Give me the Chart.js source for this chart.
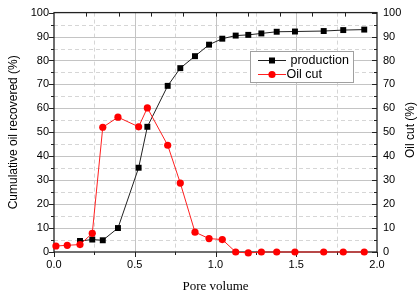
<!DOCTYPE html>
<html>
<head>
<meta charset="utf-8">
<script src="https://cdn.jsdelivr.net/npm/chart.js@4/dist/chart.umd.min.js"></script>
<style>
html,body{margin:0;padding:0;background:#fff;}
#wrap{width:420px;height:305px;}
</style>
</head>
<body>
<div id="wrap"><canvas id="c" width="420" height="305"></canvas></div>
<script>
// ---- data ----
const productionPV = [0.161, 0.237, 0.302, 0.396, 0.524, 0.578, 0.704, 0.782, 0.873, 0.960, 1.042, 1.125, 1.203, 1.284, 1.379, 1.492, 1.670, 1.791, 1.921];
const productionValues = [4.6, 5.2, 4.9, 10.0, 35.2, 52.3, 69.4, 76.8, 81.8, 86.6, 89.1, 90.4, 90.7, 91.3, 92.0, 92.1, 92.3, 92.7, 92.9];
const oilCutPV = [0.012, 0.082, 0.161, 0.237, 0.302, 0.396, 0.524, 0.578, 0.704, 0.782, 0.873, 0.960, 1.042, 1.125, 1.203, 1.284, 1.379, 1.492, 1.670, 1.791, 1.921];
const oilCutValues = [2.5, 2.8, 3.1, 7.8, 52.1, 56.3, 52.3, 60.2, 44.6, 28.8, 8.3, 5.6, 5.2, 0, -0.4, 0, 0, 0, 0, 0, 0];
const seriesLabels = ["production", "Oil cut"];
const xTitle = "Pore volume";
const yTitle = "Cumulative oil recovered (%)";
const y2Title = "Oil cut (%)";

const SANS = '"Liberation Sans", Arial, sans-serif';
const SERIF = '"Liberation Serif", "Times New Roman", serif';

function pts(xs, ys){ return xs.map((v,i)=>({x:v, y:ys[i]})); }

const decor = {
  id: 'decor',
  beforeDatasetsDraw(chart){
    const {ctx, chartArea:a, scales} = chart;
    const x = scales.x, y = scales.y;
    ctx.save();
    const L = a.left, R = a.right, T = a.top, B = a.bottom;
    function seg(x1,y1,x2,y2){ ctx.beginPath(); ctx.moveTo(x1,y1); ctx.lineTo(x2,y2); ctx.stroke(); }
    // minor dashed grid
    ctx.lineWidth = 1;
    ctx.strokeStyle = '#d6d6d6';
    ctx.setLineDash([4,3]);
    for (let v = 0.25; v < 2; v += 0.5) { const p = Math.round(x.getPixelForValue(v)) + 0.5; seg(p,T,p,B); }
    for (let v = 5; v < 100; v += 10) { const p = Math.round(y.getPixelForValue(v)) + 0.5; seg(L,p,R,p); }
    // major solid grid
    ctx.setLineDash([]);
    ctx.strokeStyle = '#c4c4c4';
    for (let v = 0.5; v < 2; v += 0.5) { const p = Math.round(x.getPixelForValue(v)) + 0.5; seg(p,T,p,B); }
    for (let v = 10; v < 100; v += 10) { const p = Math.round(y.getPixelForValue(v)) + 0.5; seg(L,p,R,p); }
    // frame
    ctx.strokeStyle = '#222';
    ctx.lineWidth = 1.3;
    ctx.strokeRect(L, T, R - L, B - T);
    // ticks
    ctx.lineWidth = 1;
    for (let k = 0; k <= 20; k++) {
      const v = k * 5;
      const p = Math.round(y.getPixelForValue(v)) + 0.5;
      const len = (k % 2 === 0) ? 5 : 3;
      seg(L - len, p, L, p);       // left: outward
      seg(R - len, p, R, p);       // right: inward
    }
    for (let k = 0; k <= 8; k++) {
      const v = k * 0.25;
      const p = Math.round(x.getPixelForValue(v)) + 0.5;
      const len = (k % 2 === 0) ? 5 : 3;
      seg(p, B, p, B + len);       // bottom: outward
    }
    for (let k = 1; k < 10; k++) {
      const p = Math.round(x.getPixelForValue(k * 0.2)) + 0.5;
      seg(p, T, p, T + 4);         // top: inward
    }
    ctx.restore();
  },
  afterDatasetsDraw(chart){
    const {ctx} = chart;
    const ds = chart.data.datasets;
    ctx.save();
    // legend box
    ctx.fillStyle = '#fff';
    ctx.fillRect(250.5, 51.5, 103, 31);
    ctx.strokeStyle = '#a0a0a0';
    ctx.lineWidth = 1;
    ctx.strokeRect(250.5, 51.5, 103, 31);
    const rows = [{y:60.5, tx:290.5}, {y:74.5, tx:286.5}];
    ds.forEach((d, i) => {
      const r = rows[i];
      ctx.strokeStyle = d.borderColor;
      ctx.lineWidth = 1;
      ctx.beginPath(); ctx.moveTo(258, r.y); ctx.lineTo(286, r.y); ctx.stroke();
      ctx.fillStyle = d.pointBackgroundColor;
      if (d.pointStyle === 'rect') {
        ctx.fillRect(269, r.y - 3, 6, 6);
      } else {
        ctx.beginPath(); ctx.arc(272, r.y, 3.6, 0, Math.PI*2); ctx.fill();
      }
      ctx.fillStyle = '#000';
      ctx.font = '12.5px ' + SANS;
      ctx.textBaseline = 'middle';
      ctx.textAlign = 'left';
      ctx.fillText(d.label, r.tx, r.y + 0.5);
    });
    // right axis title (reads bottom-to-top)
    ctx.translate(411, 130);
    ctx.rotate(-Math.PI/2);
    ctx.font = '12px ' + SANS;
    ctx.textAlign = 'center';
    ctx.textBaseline = 'middle';
    ctx.fillStyle = '#000';
    ctx.fillText(y2Title, 0, 0);
    ctx.restore();
  }
};

new Chart(document.getElementById('c'), {
  type: 'line',
  data: {
    datasets: [
      {
        label: seriesLabels[0],
        data: pts(productionPV, productionValues),
        yAxisID: 'y',
        borderColor: '#222',
        borderWidth: 1,
        pointStyle: 'rect',
        pointRadius: 4.2,
        pointBackgroundColor: '#000',
        pointBorderColor: '#000',
        pointBorderWidth: 0,
        tension: 0,
        clip: false,
        order: 2
      },
      {
        label: seriesLabels[1],
        data: pts(oilCutPV, oilCutValues),
        yAxisID: 'y2',
        borderColor: '#ff2020',
        borderWidth: 1,
        pointStyle: 'circle',
        pointRadius: 3.6,
        pointBackgroundColor: '#ff0000',
        pointBorderColor: '#ff0000',
        pointBorderWidth: 0,
        tension: 0,
        clip: false,
        order: 1
      }
    ]
  },
  options: {
    responsive: false,
    animation: false,
    devicePixelRatio: 1,
    layout: { padding: { top: 12, left: 0, right: 0, bottom: 0 } },
    plugins: { legend: { display: false }, tooltip: { enabled: false } },
    scales: {
      x: {
        type: 'linear', position: 'bottom', min: 0, max: 2,
        grid: { display: false, drawTicks: false },
        border: { display: false },
        ticks: { stepSize: 0.5, padding: 6, color: '#000', font: { family: SANS, size: 11 },
                 callback: v => Number(v).toFixed(1) },
        title: { display: true, text: xTitle, color: '#000', font: { family: SERIF, size: 13 },
                 padding: { top: 0, bottom: 11 } },
        afterFit(s){ s.height = 53; }
      },
      y: {
        type: 'linear', position: 'left', min: 0, max: 100,
        grid: { display: false, drawTicks: false },
        border: { display: false },
        ticks: { stepSize: 10, padding: 5, color: '#000', font: { family: SANS, size: 11 } },
        title: { display: true, text: yTitle, color: '#000', font: { family: SANS, size: 12 },
                 padding: { top: 6, bottom: 0 } },
        afterFit(s){ s.width = 54; }
      },
      y2: {
        type: 'linear', position: 'right', min: 0, max: 100,
        grid: { display: false, drawTicks: false },
        border: { display: false },
        ticks: { stepSize: 10, padding: 6, color: '#000', font: { family: SANS, size: 11 } },
        afterFit(s){ s.width = 43; }
      }
    }
  },
  plugins: [decor]
});
</script>
</body>
</html>
